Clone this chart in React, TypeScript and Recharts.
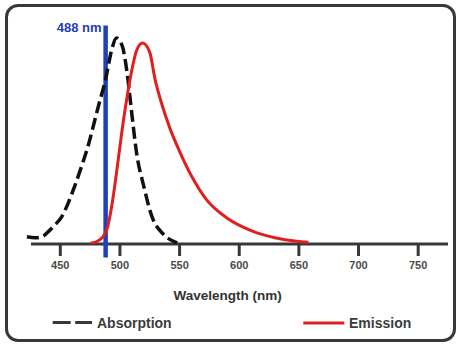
import { Line, LineChart, ReferenceLine, XAxis, YAxis } from 'recharts'

const absorptionNm = [422, 429, 435, 440, 445, 451, 456, 462, 468, 474, 478, 482, 488, 493, 497, 502, 506, 510, 514, 520, 527, 536, 546, 548]
const absorptionValues = [3.5, 3, 3.6, 6, 9, 13, 19, 28, 38, 49, 58, 67, 80, 94, 100, 96, 83, 63, 44, 28, 13, 5, 1, 0.5]

const emissionNm = [475, 483, 489, 493, 497, 501.5, 505.6, 510, 514, 519, 525, 529.4, 534, 542, 549.5, 560, 572.7, 590, 610, 630, 648, 658]
const emissionValues = [0.3, 2, 7, 18, 34, 54, 70, 84.5, 94, 97.5, 93, 80, 70, 56, 45.6, 33, 21.4, 12.5, 6.5, 3, 1.3, 0.8]

const wavelengthTicks = [450, 500, 550, 600, 650, 700, 750]
const seriesNames = ['Absorption', 'Emission']
const laserNm = 488

const absorptionData = absorptionNm.map((nm, i) => ({ nm, value: absorptionValues[i] }))
const emissionData = emissionNm.map((nm, i) => ({ nm, value: emissionValues[i] }))

const FONT = '"Liberation Sans", Arial, sans-serif'
const BLUE = '#1e40b8'
const RED = '#e0201e'
const DARK = '#383838'

function LegendBlock() {
  return (
    <svg width={457} height={24} style={{ position: 'absolute', left: 0, top: 311 }}>
      <line x1={52.7} x2={92} y1={11.5} y2={11.5} stroke={DARK} strokeWidth={3.2} strokeDasharray="18 4.5" />
      <text x={97} y={16.5} fontSize={14} fontWeight="bold" fill="#3c3c3c" fontFamily={FONT}>
        {seriesNames[0]}
      </text>
      <line x1={303.3} x2={344.3} y1={12} y2={12} stroke={RED} strokeWidth={3.2} />
      <text x={349} y={16.8} fontSize={14} fontWeight="bold" fill="#3c3c3c" fontFamily={FONT}>
        {seriesNames[1]}
      </text>
    </svg>
  )
}

export default function App() {
  return (
    <div style={{ position: 'absolute', left: 0, top: 0, width: 457, height: 345, background: '#fff' }}>
      <div
        style={{
          position: 'absolute',
          left: 5,
          top: 4,
          width: 451,
          height: 338,
          boxSizing: 'border-box',
          border: `3px solid ${DARK}`,
          borderRadius: 13,
        }}
      />
      <LineChart width={457} height={345} margin={{ top: 25.6, right: 9, left: 25.7, bottom: 71 }}>
        <XAxis
          type="number"
          dataKey="nm"
          domain={[421, 775]}
          allowDataOverflow
          ticks={wavelengthTicks}
          axisLine={false}
          tickSize={12}
          tickMargin={5}
          height={30}
          tickLine={{ stroke: DARK, strokeWidth: 3 }}
          tick={{ fontSize: 11, fontWeight: 'bold', fill: '#4a4a4a', fontFamily: FONT }}
          label={({ viewBox }: any) => (
            <text
              x={viewBox.x + viewBox.width / 2 - 9.3}
              y={viewBox.y + 56}
              textAnchor="middle"
              fontSize={13.5}
              fontWeight="bold"
              fill="#333"
              fontFamily={FONT}
            >
              Wavelength (nm)
            </text>
          )}
        />
        <YAxis hide type="number" domain={[0, 106]} allowDataOverflow />
        <ReferenceLine
          segment={[
            { x: 425.4, y: 0 },
            { x: 775, y: 0 },
          ]}
          stroke={DARK}
          strokeWidth={3}
          ifOverflow="visible"
        />
        <ReferenceLine
          segment={[
            { x: laserNm, y: 106 },
            { x: laserNm, y: -6.5 },
          ]}
          stroke={BLUE}
          strokeWidth={4.5}
          ifOverflow="visible"
          label={({ viewBox }: any) => (
            <text
              x={viewBox.x - 4}
              y={viewBox.y + 6.3}
              textAnchor="end"
              fontSize={13}
              fontWeight="bold"
              fill={BLUE}
              fontFamily={FONT}
            >
              {laserNm} nm
            </text>
          )}
        />
        <Line
          data={absorptionData}
          dataKey="value"
          name={seriesNames[0]}
          type="monotone"
          stroke="#111"
          strokeWidth={3.5}
          strokeDasharray="12 5"
          dot={false}
          activeDot={false}
          isAnimationActive={false}
        />
        <Line
          data={emissionData}
          dataKey="value"
          name={seriesNames[1]}
          type="monotone"
          stroke={RED}
          strokeWidth={3}
          dot={false}
          activeDot={false}
          isAnimationActive={false}
        />
      </LineChart>
      <LegendBlock />
    </div>
  )
}
